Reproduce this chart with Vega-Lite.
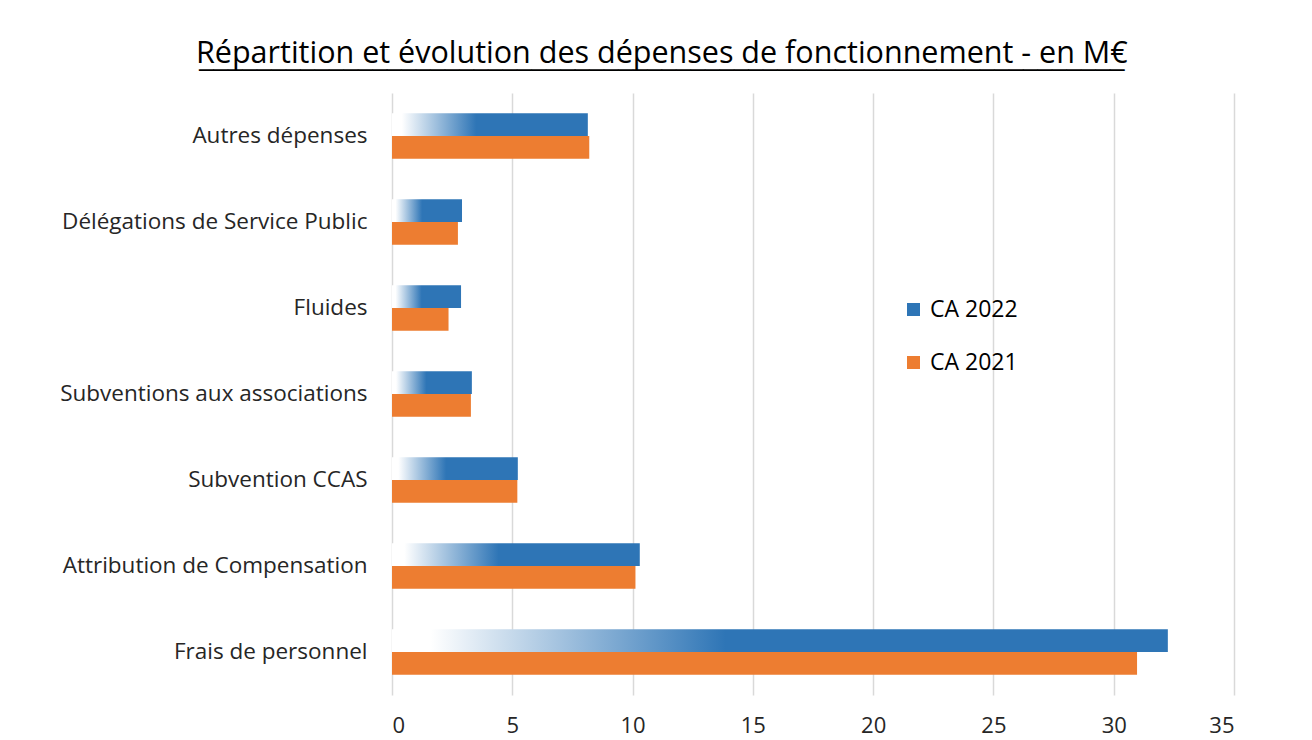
{
  "$schema": "https://vega.github.io/schema/vega-lite/v6.json",
  "width": 842,
  "height": 602,
  "autosize": {"type": "none"},
  "padding": {"left": 392, "top": 93, "right": 78, "bottom": 45},
  "background": "white",
  "title": {
    "text": "Répartition et évolution des dépenses de fonctionnement - en M€",
    "subtitle": "________________________________________________________________",
    "font": "Open Sans",
    "fontSize": 30.5,
    "fontWeight": "normal",
    "color": "#000000",
    "subtitleFont": "Liberation Sans",
    "subtitleFontSize": 26,
    "subtitleColor": "#000000",
    "subtitlePadding": -24,
    "anchor": "middle",
    "frame": "bounds",
    "offset": 22,
    "dx": 15
  },
  "data": {
    "values": [
      {"categorie": "Autres dépenses", "serie": "CA 2022", "valeur": 8.14},
      {"categorie": "Autres dépenses", "serie": "CA 2021", "valeur": 8.2},
      {"categorie": "Délégations de Service Public", "serie": "CA 2022", "valeur": 2.91},
      {"categorie": "Délégations de Service Public", "serie": "CA 2021", "valeur": 2.74},
      {"categorie": "Fluides", "serie": "CA 2022", "valeur": 2.87},
      {"categorie": "Fluides", "serie": "CA 2021", "valeur": 2.35},
      {"categorie": "Subventions aux associations", "serie": "CA 2022", "valeur": 3.32},
      {"categorie": "Subventions aux associations", "serie": "CA 2021", "valeur": 3.28},
      {"categorie": "Subvention CCAS", "serie": "CA 2022", "valeur": 5.23},
      {"categorie": "Subvention CCAS", "serie": "CA 2021", "valeur": 5.21},
      {"categorie": "Attribution de Compensation", "serie": "CA 2022", "valeur": 10.3},
      {"categorie": "Attribution de Compensation", "serie": "CA 2021", "valeur": 10.12},
      {"categorie": "Frais de personnel", "serie": "CA 2022", "valeur": 32.25},
      {"categorie": "Frais de personnel", "serie": "CA 2021", "valeur": 30.97}
    ]
  },
  "mark": {"type": "bar"},
  "encoding": {
    "y": {
      "field": "categorie",
      "type": "nominal",
      "sort": ["Autres dépenses", "Délégations de Service Public", "Fluides", "Subventions aux associations", "Subvention CCAS", "Attribution de Compensation", "Frais de personnel"],
      "scale": {"paddingInner": 0.473, "paddingOuter": 0.2365},
      "axis": {
        "title": null,
        "ticks": false,
        "domain": false,
        "grid": false,
        "labelFont": "Open Sans",
        "labelFontSize": 22.5,
        "labelColor": "#262626",
        "labelPadding": 25,
        "labelLimit": 500
      }
    },
    "yOffset": {
      "field": "serie",
      "type": "nominal",
      "sort": ["CA 2022", "CA 2021"]
    },
    "x": {
      "field": "valeur",
      "type": "quantitative",
      "scale": {"domain": [0, 35], "nice": false},
      "axis": {
        "title": null,
        "values": [0, 5, 10, 15, 20, 25, 30, 35],
        "ticks": false,
        "domain": false,
        "grid": true,
        "gridColor": "#D9D9D9",
        "gridWidth": 1.5,
        "labelFont": "Open Sans",
        "labelFontSize": 22,
        "labelColor": "#262626",
        "labelPadding": 20
      }
    },
    "fill": {
      "condition": {
        "test": "datum.serie === 'CA 2022'",
        "value": {
          "gradient": "linear",
          "x1": 0, "y1": 0, "x2": 1, "y2": 0,
          "stops": [
            {"offset": 0, "color": "#ffffff"},
            {"offset": 0.05, "color": "#ffffff"},
            {"offset": 0.43, "color": "#2E75B6"},
            {"offset": 1, "color": "#2E75B6"}
          ]
        }
      },
      "field": "serie",
      "type": "nominal",
      "scale": {"domain": ["CA 2022", "CA 2021"], "range": ["#2E75B6", "#ED7D31"]},
      "legend": {
        "title": null,
        "orient": "none",
        "legendX": 510,
        "legendY": 205,
        "symbolType": "square",
        "symbolSize": 169,
        "symbolStrokeWidth": 0,
        "labelFont": "Open Sans",
        "labelFontSize": 23,
        "labelColor": "#000000",
        "labelOffset": 5,
        "rowPadding": 29,
        "encode": {
          "symbols": {
            "update": {
              "fill": {"signal": "datum.value === 'CA 2022' ? {gradient: 'linear', x1: 0, y1: 0, x2: 1, y2: 1, stops: [{offset: 0, color: '#ffffff'}, {offset: 0.6, color: '#2E75B6'}]} : '#ED7D31'"}
            }
          }
        }
      }
    }
  },
  "config": {"view": {"stroke": null}}
}
